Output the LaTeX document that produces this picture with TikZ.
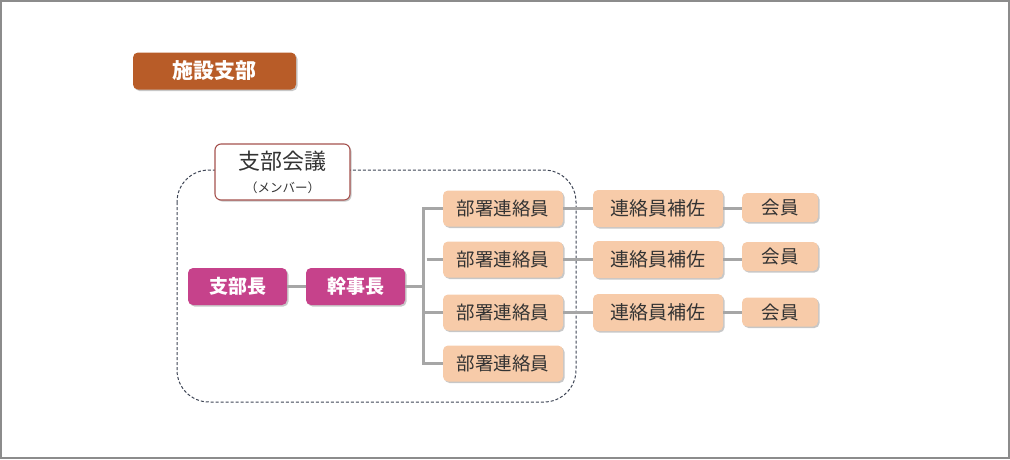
\documentclass[tikz,border=0pt]{standalone}
\usepackage{fontspec}
\newfontfamily\cjk{Noto Sans CJK JP}
\usetikzlibrary{shadows}
\definecolor{brownbox}{HTML}{B85C28}
\definecolor{magbox}{HTML}{C6428B}
\definecolor{peach}{HTML}{F7CBA9}
\definecolor{conngray}{HTML}{A6A6A6}
\definecolor{dashgray}{HTML}{3E4555}
\definecolor{meetborder}{HTML}{A5524E}
\definecolor{txt}{HTML}{333333}
\definecolor{framegray}{HTML}{8C8C8C}
\tikzset{
  shad/.style={drop shadow={shadow xshift=1.5pt,shadow yshift=-1.5pt,fill=black,opacity=0.22}},
  boldbox/.style={shad,rounded corners=5pt,text=white,font=\cjk\bfseries\fontsize{19}{22}\selectfont,inner sep=0pt,minimum height=37pt},
  peachbox/.style={shad,fill=peach,rounded corners=5pt,text=txt,font=\cjk\fontsize{18.5}{22}\selectfont,inner sep=0pt,minimum height=36pt},
  conn/.style={draw=conngray,line width=3pt},
  grp/.style={draw=dashgray,line width=1pt,dash pattern=on 3pt off 2pt,rounded corners=32pt}
}
\begin{document}
\begin{tikzpicture}[x=1pt,y=-1pt]
\useasboundingbox (0,0) rectangle (1010,459);
\draw[framegray,line width=2pt] (1,1) rectangle (1009,458);
% group outline
\draw[grp] (177,170) rectangle (576,402);
% title
\node[boldbox,fill=brownbox,minimum width=163pt,font=\cjk\bfseries\fontsize{21}{24}\selectfont] (title) at (214.5,71) {施設支部};
% meeting
\node[shad,fill=white,draw=meetborder,line width=1.1pt,rounded corners=6pt,minimum width=135pt,minimum height=56pt,inner sep=0pt,text=txt,align=center,font=\cjk\fontsize{22}{23}\selectfont] (meet) at (282.5,172)
  {支部会議\\{\fontsize{12.5}{15}\selectfont （メンバー）}};
% heads
\node[boldbox,fill=magbox,minimum width=99pt] (chief) at (237.5,286.5) {支部長};
\node[boldbox,fill=magbox,minimum width=99pt] (sec) at (355.5,286.5) {幹事長};
% liaisons
\node[peachbox,minimum width=120pt] (b1) at (503,208.5) {部署連絡員};
\node[peachbox,minimum width=120pt] (b2) at (503,259.5) {部署連絡員};
\node[peachbox,minimum width=120pt] (b3) at (503,312.5) {部署連絡員};
\node[peachbox,minimum width=120pt] (b4) at (503,363.5) {部署連絡員};
% assistants
\node[peachbox,minimum width=130pt,minimum height=37pt,font=\cjk\fontsize{19}{22}\selectfont] (a1) at (658,208.5) {連絡員補佐};
\node[peachbox,minimum width=130pt,minimum height=37pt,font=\cjk\fontsize{19}{22}\selectfont] (a2) at (658,259.5) {連絡員補佐};
\node[peachbox,minimum width=130pt,minimum height=37pt,font=\cjk\fontsize{19}{22}\selectfont] (a3) at (658,312.5) {連絡員補佐};
% members
\node[peachbox,minimum width=76pt,minimum height=29pt] (m1) at (780,207.5) {会員};
\node[peachbox,minimum width=76pt,minimum height=29pt] (m2) at (780,256.5) {会員};
\node[peachbox,minimum width=76pt,minimum height=29pt] (m3) at (780,312) {会員};
% connectors
\coordinate (tbot) at (423,363.5);
\coordinate (s2) at (426.5,259.5);
\coordinate (s3) at (423,312.5);
\draw[conn] (chief.east) -- (sec.west);
\draw[conn] (sec.east) -- (sec.east -| tbot);
\draw[conn] (b1.west) -| (tbot) -- (b4.west);
\draw[conn] (s2) -- (b2.west);
\draw[conn] (s3) -- (b3.west);
\draw[conn] (b1.east) -- (a1.west);
\draw[conn] (b2.east) -- (a2.west);
\draw[conn] (b3.east) -- (a3.west);
\draw[conn] (a1.east) -- (a1.east -| m1.west);
\draw[conn] (a2.east) -- (a2.east -| m2.west);
\draw[conn] (a3.east) -- (a3.east -| m3.west);
\end{tikzpicture}
\end{document}
